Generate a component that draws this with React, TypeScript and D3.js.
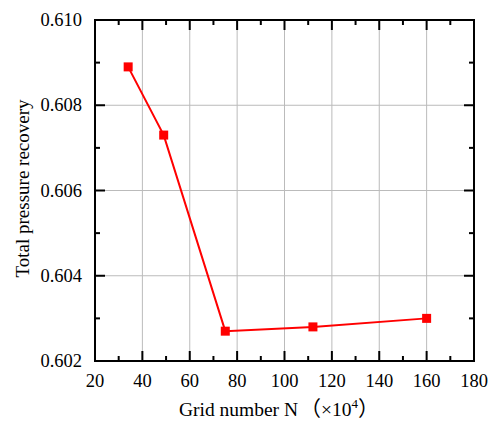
import React from "react";
import * as d3 from "d3";

const gridN = [34, 49, 75, 112, 160];
const recovery = [0.6089, 0.6073, 0.6027, 0.6028, 0.603];
const xTicks = [20, 40, 60, 80, 100, 120, 140, 160, 180];
const yTicks = [0.602, 0.604, 0.606, 0.608, 0.61];

const W = 491;
const H = 421;
const m = { left: 95, right: 17, top: 20, bottom: 60 };

export default function App() {
  const x = d3.scaleLinear().domain([20, 180]).range([m.left, W - m.right]);
  const y = d3.scaleLinear().domain([0.602, 0.61]).range([H - m.bottom, m.top]);
  const line = d3
    .line<number>()
    .x((_, i) => x(gridN[i]))
    .y((d) => y(d));

  const xMinor = d3.range(30, 180, 20);
  const yMinor = d3.range(0.603, 0.6095, 0.002);
  const x0 = x(20), x1 = x(180), y0 = y(0.602), y1 = y(0.61);
  const font = "Liberation Serif, DejaVu Serif, serif";
  const cjk = "Noto Sans CJK SC, sans-serif";

  return (
    <svg width={W} height={H} style={{ position: "absolute", left: 0, top: 0 }}>
      <rect width={W} height={H} fill="#fff" />
      {/* grid */}
      {xTicks.slice(1, -1).map((t) => (
        <line key={"gx" + t} x1={x(t)} x2={x(t)} y1={y0} y2={y1} stroke="#bbb" strokeWidth={1} />
      ))}
      {yTicks.slice(1, -1).map((t) => (
        <line key={"gy" + t} x1={x0} x2={x1} y1={y(t)} y2={y(t)} stroke="#bbb" strokeWidth={1} />
      ))}
      {/* ticks, inside, mirrored */}
      <g stroke="#000" strokeWidth={2}>
        {xTicks.map((t) => (
          <g key={"tx" + t}>
            <line x1={x(t)} x2={x(t)} y1={y0} y2={y0 - 10} />
            <line x1={x(t)} x2={x(t)} y1={y1} y2={y1 + 10} />
          </g>
        ))}
        {xMinor.map((t) => (
          <g key={"mx" + t}>
            <line x1={x(t)} x2={x(t)} y1={y0} y2={y0 - 5} />
            <line x1={x(t)} x2={x(t)} y1={y1} y2={y1 + 5} />
          </g>
        ))}
        {yTicks.map((t) => (
          <g key={"ty" + t}>
            <line x1={x0} x2={x0 + 10} y1={y(t)} y2={y(t)} />
            <line x1={x1} x2={x1 - 10} y1={y(t)} y2={y(t)} />
          </g>
        ))}
        {yMinor.map((t) => (
          <g key={"my" + t}>
            <line x1={x0} x2={x0 + 5} y1={y(t)} y2={y(t)} />
            <line x1={x1} x2={x1 - 5} y1={y(t)} y2={y(t)} />
          </g>
        ))}
      </g>
      <rect x={x0} y={y1} width={x1 - x0} height={y0 - y1} fill="none" stroke="#000" strokeWidth={2} />
      {/* series */}
      <path d={line(recovery) || ""} fill="none" stroke="#ff0000" strokeWidth={2} />
      {recovery.map((v, i) => (
        <rect key={"p" + i} x={x(gridN[i]) - 4.5} y={y(v) - 4.5} width={9} height={9} fill="#ff0000" />
      ))}
      {/* labels */}
      <g style={{ fontFamily: font }} fontSize={18.5} fill="#000">
        {xTicks.map((t) => (
          <text key={"lx" + t} x={x(t)} y={y0 + 26} textAnchor="middle">
            {t}
          </text>
        ))}
        {yTicks.map((t) => (
          <text key={"ly" + t} x={x0 - 13} y={y(t) + 6} textAnchor="end">
            {t.toFixed(3)}
          </text>
        ))}
        <text x={279} y={416} textAnchor="middle" fontSize={19.5}>
          Grid number N
          <tspan dx={2} fontSize={21} style={{ fontFamily: cjk }}>（</tspan>×10
          <tspan dy={-8} fontSize={13}>4</tspan>
          <tspan dy={8} fontSize={21} style={{ fontFamily: cjk }}>）</tspan>
        </text>
        <text transform={`translate(29,${(y0 + y1) / 2 - 2}) rotate(-90)`} textAnchor="middle" fontSize={19}>
          Total pressure recovery
        </text>
      </g>
    </svg>
  );
}
